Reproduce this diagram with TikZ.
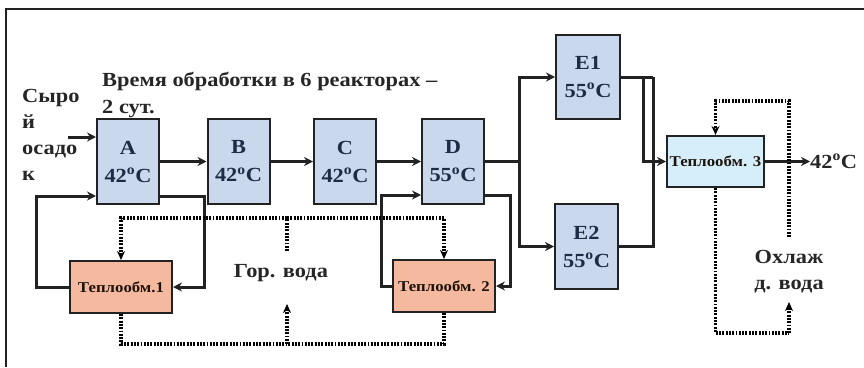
\documentclass[tikz,border=0pt]{standalone}
\usepackage{fontspec}
\setmainfont[FakeStretch=1.12]{Liberation Serif}
\usetikzlibrary{arrows.meta,calc}
\definecolor{reactfill}{HTML}{C9D8EC}
\definecolor{hxfill}{HTML}{F5B9A0}
\definecolor{hxcool}{HTML}{D6EEF9}
\definecolor{boxtext}{HTML}{1F2A44}
\definecolor{txt}{HTML}{262626}
\definecolor{edge}{HTML}{222222}
\begin{document}
\begin{tikzpicture}[x=1pt,y=-1pt,
  reactor/.style={draw=edge,line width=2pt,fill=reactfill,minimum width=62pt,minimum height=85pt,inner sep=0pt,align=center,text=boxtext,font=\fontsize{20}{28}\selectfont\bfseries},
  hx/.style={draw=edge,line width=2pt,minimum width=102pt,minimum height=52pt,inner sep=0pt,text=black!85!brown,font=\fontsize{15}{16}\selectfont\bfseries},
  lbl/.style={text=txt,inner sep=0pt,font=\fontsize{20}{26}\selectfont\bfseries},
  flow/.style={draw=edge,line width=3pt},
  flowarr/.style={flow,-{Stealth[length=9pt,width=9pt]}},
  dots/.style={draw=black,line width=3.2pt,dash pattern=on 1.9pt off 1.4pt},
  dotsarr/.style={dots,-{Stealth[length=9pt,width=8pt]}}
]
\useasboundingbox (0,0) rectangle (864,367);
% frame
\draw[edge,line width=1.4pt] (864,9) -- (6,9) -- (6,367);

% reactors
\node[reactor] (A) at (128,161.5) {A\\42\textsuperscript{o}C};
\node[reactor] (B) at (238.5,161.5) {B\\42\textsuperscript{o}C};
\node[reactor] (C) at (345,161.5) {C\\42\textsuperscript{o}C};
\node[reactor] (D) at (453,161.5) {D\\55\textsuperscript{o}C};
\node[reactor,minimum width=64pt,minimum height=84pt] (E1) at (588,77) {E1\\55\textsuperscript{o}C};
\node[reactor,minimum width=63pt,minimum height=85pt] (E2) at (586.5,246.5) {E2\\55\textsuperscript{o}C};

% heat exchangers
\node[hx,fill=hxfill] (T1) at (121,287) {Теплообм.1};
\node[hx,fill=hxfill] (T2) at (444,286) {Теплообм. 2};
\node[hx,fill=hxcool,minimum width=97pt,minimum height=51pt] (T3) at (715.5,161.5) {Теплообм. 3};

% labels
\node[lbl,anchor=base west] (title1) at (102,86) {Время обработки в 6 реакторах –};
\node[lbl,anchor=base west] (title2) at (102,113) {2 сут.};
\node[lbl,anchor=base west] (raw1) at (22,102) {Сыро};
\node[lbl,anchor=base west] (raw2) at (22,128) {й};
\node[lbl,anchor=base west] (raw3) at (22,154) {осадо};
\node[lbl,anchor=base west] (raw4) at (22,180) {к};
\node[lbl] (hot) at (281,273) {Гор. вода};
\node[lbl,align=center] (cool) at (789,272) {Охлаж\\д. вода};
\node[lbl,anchor=west] (out) at (810,161.5) {42\textsuperscript{o}C};

% coordinates
\coordinate (in) at (68,137);
\coordinate (c1) at (36,196);
\coordinate (c2) at (204,196);
\coordinate (c4) at (381,195);
\coordinate (c5) at (510,195);
\coordinate (c6) at (519,161.5);
\coordinate (c7) at (643,77);
\coordinate (c8) at (653,77);
\coordinate (hwT) at (287,218);
\coordinate (gtop) at (287,251);
\coordinate (hwB) at (287,344);
\coordinate (gbot) at (287,304);
\coordinate (cwT) at (789,101);
\coordinate (ctop) at (789,237);
\coordinate (cwB) at (789,333);
\coordinate (cbot) at (789,302);

% solid flows
\draw[flowarr] (in) -- (in -| A.west);
\draw[flowarr] (A) -- (B);
\draw[flowarr] (B) -- (C);
\draw[flowarr] (C) -- (D);
\draw[flowarr] (T1.west) -| (c1) -- (c1 -| A.west);
\draw[flowarr] (c2 -| A.east) -- (c2) |- (T1.east);
\draw[flowarr] (T2.west) -| (c4) -- (c4 -| D.west);
\draw[flowarr] (c5 -| D.east) -- (c5) |- (T2.east);
\draw[flow] (D.east) -- (c6);
\draw[flowarr] (c6) |- (E1.west);
\draw[flowarr] (c6) |- (E2.west);
\draw[flow] (E1.east) -- (c8);
\draw[flow] (E2.east) -| (c8);
\draw[flowarr] (c7) |- (T3.west);
\draw[flowarr] (T3.east) -- (out.west);

% hot water loop
\draw[dotsarr] (gtop) -- (hwT) -| (T1.north);
\draw[dotsarr] (hwT) -| (T2.north);
\draw[dots] (T1.south) |- (hwB);
\draw[dots] (T2.south) |- (hwB);
\draw[dotsarr] (hwB) -- (gbot);

% cooling water loop
\draw[dotsarr] (ctop) -- (cwT) -| (T3.north);
\draw[dots] (T3.south) |- (cwB);
\draw[dotsarr] (cwB) -- (cbot);
\end{tikzpicture}
\end{document}
